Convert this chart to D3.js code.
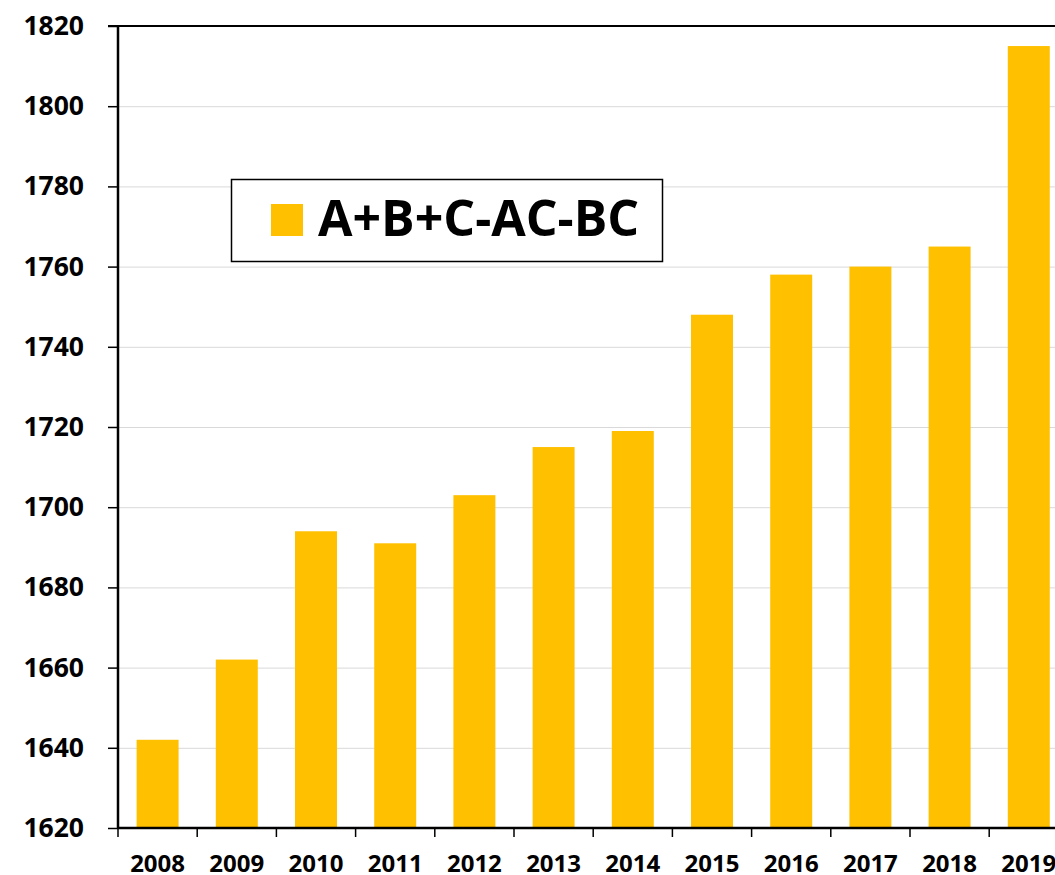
<!DOCTYPE html>
<html>
<head>
<meta charset="utf-8">
<script src="https://cdnjs.cloudflare.com/ajax/libs/d3/7.8.5/d3.min.js"></script>
<style>
  body { margin: 0; background: #fff; }
  svg { display: block; font-family: "Open Sans", sans-serif; font-weight: bold; }
</style>
</head>
<body>
<svg width="1055" height="875"></svg>
<script>
"use strict";

// data
var years = ["2008", "2009", "2010", "2011", "2012", "2013", "2014", "2015", "2016", "2017", "2018", "2019"];
var values = [1642, 1662, 1694, 1691, 1703, 1715, 1719, 1748, 1758, 1760, 1765, 1815];
var yTicks = [1620, 1640, 1660, 1680, 1700, 1720, 1740, 1760, 1780, 1800, 1820];
var seriesName = "A+B+C-AC-BC";

var svg = d3.select("svg"),
    plotLeft = 118, plotTop = 26, plotBottom = 828,
    plotRight = plotLeft + 12 * 79.2;

var x = d3.scaleBand()
    .domain(years)
    .range([plotLeft, plotRight])
    .paddingInner(0.47)
    .paddingOuter(0.235);

var y = d3.scaleLinear()
    .domain([1620, 1820])
    .range([plotBottom, plotTop]);

// gridlines
svg.append("g")
  .selectAll("line")
  .data(yTicks.slice(1, -1))
  .enter().append("line")
    .attr("x1", plotLeft).attr("x2", 1055)
    .attr("y1", function(d) { return y(d) + 0.5; })
    .attr("y2", function(d) { return y(d) + 0.5; })
    .attr("stroke", "#d9d9d9")
    .attr("stroke-width", 1);

// bars
svg.append("g")
  .selectAll("rect")
  .data(values)
  .enter().append("rect")
    .attr("x", function(d, i) { return x(years[i]); })
    .attr("y", function(d) { return y(d); })
    .attr("width", x.bandwidth())
    .attr("height", function(d) { return plotBottom - y(d); })
    .attr("fill", "#ffc000");

// top border line
svg.append("line")
  .attr("x1", plotLeft - 10).attr("x2", 1055)
  .attr("y1", y(1820)).attr("y2", y(1820))
  .attr("stroke", "#000").attr("stroke-width", 2);

// y axis
var yAxis = svg.append("g")
  .attr("transform", "translate(" + plotLeft + ",0)")
  .call(d3.axisLeft(y).tickValues(yTicks).tickSize(10).tickPadding(24).tickFormat(d3.format("d")));
yAxis.select(".domain").attr("stroke-width", 2.5).attr("d", "M0," + plotTop + "V" + plotBottom);
yAxis.selectAll(".tick line").attr("stroke-width", 1.5);
yAxis.selectAll("text")
  .attr("font-family", "Open Sans, sans-serif")
  .attr("font-weight", "bold")
  .attr("font-size", 26.5)
  .attr("fill", "#000");

// x axis line + boundary ticks
var step = x.step();
svg.append("line")
  .attr("x1", plotLeft).attr("x2", 1055)
  .attr("y1", plotBottom).attr("y2", plotBottom)
  .attr("stroke", "#000").attr("stroke-width", 2.5);

svg.append("g")
  .selectAll("line")
  .data(d3.range(years.length + 1))
  .enter().append("line")
    .attr("x1", function(i) { return plotLeft + i * step; })
    .attr("x2", function(i) { return plotLeft + i * step; })
    .attr("y1", plotBottom).attr("y2", plotBottom + 9)
    .attr("stroke", "#000").attr("stroke-width", 1.5);

svg.append("g")
  .selectAll("text")
  .data(years)
  .enter().append("text")
    .attr("x", function(d) { return x(d) + x.bandwidth() / 2; })
    .attr("y", 872)
    .attr("text-anchor", "middle")
    .attr("font-size", 24)
    .attr("fill", "#000")
    .text(function(d) { return d; });

// legend
var legend = svg.append("g");
legend.append("rect")
  .attr("x", 231.5).attr("y", 179.5)
  .attr("width", 431).attr("height", 82)
  .attr("fill", "#fff")
  .attr("stroke", "#000").attr("stroke-width", 1.5);
legend.append("rect")
  .attr("x", 271).attr("y", 204)
  .attr("width", 32).attr("height", 32)
  .attr("fill", "#ffc000");
legend.append("text")
  .attr("x", 318).attr("y", 236)
  .attr("font-size", 50)
  .attr("fill", "#000")
  .text(seriesName);
</script>
</body>
</html>
